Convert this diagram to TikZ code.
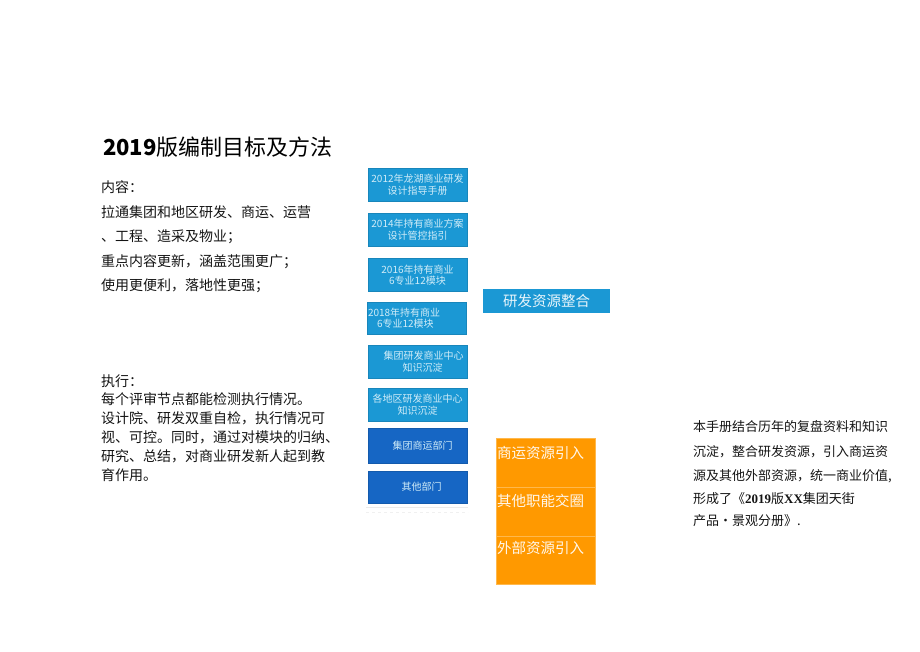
\documentclass[tikz,border=0pt]{standalone}
\usepackage{fontspec}
\setmainfont{Noto Sans CJK SC}
\newfontfamily\tnr{Liberation Serif}
\usetikzlibrary{positioning}
\definecolor{boxblue}{RGB}{27,152,212}
\definecolor{deepblue}{RGB}{22,102,196}
\definecolor{boxorange}{RGB}{255,153,0}
\definecolor{boxtext}{RGB}{208,236,248}
\definecolor{inktext}{RGB}{20,20,20}

\begin{document}
\begin{tikzpicture}[x=1pt,y=-1pt,
	txt/.style={anchor=west,inner sep=0pt,text=inktext,font=\fontsize{14}{16}\selectfont},
	note/.style={anchor=west,inner sep=0pt,text=inktext,font=\fontsize{13}{15}\selectfont},
	bluebox/.style={draw=boxblue!88!black,fill=boxblue,line width=0.6pt,minimum width=99pt,minimum height=33pt,inner sep=0pt,text=boxtext,align=center,font=\fontsize{10}{11.5}\selectfont},
	darkbox/.style={bluebox,fill=deepblue,draw=deepblue!88!black},
	orangecell/.style={draw=boxorange!70!white,fill=boxorange,line width=0.5pt,minimum width=99pt,minimum height=49pt,inner sep=0pt},
	celltxt/.style={anchor=west,inner sep=0pt,text=white!92!boxorange,font=\fontsize{14.5}{16}\selectfont}]
	\useasboundingbox (0,0) rectangle (920,651);
	% title and left text
	\node[anchor=west,inner sep=0pt,text=black,font=\fontsize{22}{24}\selectfont] (title) at (103,147) {\textbf{2019}版编制目标及方法};
	\node[txt] (c0) at (101,187) {内容：};
	\node[txt] (c1) at (101,212) {拉通集团和地区研发、商运、运营};
	\node[txt] (c2) at (101,237) {、工程、造采及物业；};
	\node[txt] (c3) at (101,262) {重点内容更新，涵盖范围更广；};
	\node[txt] (c4) at (101,286) {使用更便利，落地性更强；};
	\node[txt] (e0) at (101,381) {执行：};
	\node[txt] (e1) at (101,399) {每个评审节点都能检测执行情况。};
	\node[txt] (e2) at (101,418) {设计院、研发双重自检，执行情况可};
	\node[txt] (e3) at (101,437) {视、可控。同时，通过对模块的归纳、};
	\node[txt] (e4) at (101,456) {研究、总结，对商业研发新人起到教};
	\node[txt] (e5) at (101,475) {育作用。};
	% column of sources
	\node[bluebox] (b2012) at (417.5,184.5) {2012年龙湖商业研发\\设计指导手册};
	\node[bluebox] (b2014) at (417.5,229.5) {2014年持有商业方案\\设计管控指引};
	\node[bluebox] (b2016) at (417.5,275) {2016年持有商业\\6专业12模块};
	\node[bluebox,minimum height=32pt,text width=98pt,align=left] (b2018) at (417,318) {2018年持有商业\\\hspace*{9pt}6专业12模块};
	\node[bluebox] (bgroup) at (417.5,361.5) {\hspace*{12pt}集团研发商业中心\\\hspace*{10pt}知识沉淀};
	\node[bluebox] (bregion) at (417.5,404.5) {各地区研发商业中心\\知识沉淀};
	\node[darkbox,minimum height=35pt] (bops) at (417.5,445.5) {\hspace*{10pt}集团商运部门};
	\node[darkbox,minimum height=32pt] (bother) at (417.5,487) {\hspace*{8pt}其他部门};
	\draw[black!8,line width=0.6pt] (366,507) -- (468,507);
	\draw[black!6,line width=0.6pt,dashed] (366,512) -- (468,512);
	% merge box and orange cells
	\node[fill=boxblue,minimum width=127pt,minimum height=24pt,inner sep=0pt,text=white!90!boxblue,font=\fontsize{14.5}{16}\selectfont] (merge) at (546.5,301) {研发资源整合};
	\node[orangecell] (cellA) at (545.5,462.5) {};
	\node[orangecell] (cellB) at (545.5,511.5) {};
	\node[orangecell,minimum height=48pt] (cellC) at (545.5,560) {};
	\node[celltxt] (tA) at (497,453) {商运资源引入};
	\node[celltxt] (tB) at (497,501) {其他职能交圈};
	\node[celltxt] (tC) at (497,548) {外部资源引入};
	% right note
	\node[note] (n1) at (693,427) {本手册结合历年的复盘资料和知识};
	\node[note] (n2) at (693,452) {沉淀，整合研发资源，引入商运资};
	\node[note] (n3) at (693,476) {源及其他外部资源，统一商业价值,};
	\node[note] (n4) at (693,499) {形成了《{\tnr\bfseries 2019}版{\tnr\bfseries XX}集团天街};
	\node[note] (n5) at (693,521) {产品·景观分册》.};
\end{tikzpicture}
\end{document}
